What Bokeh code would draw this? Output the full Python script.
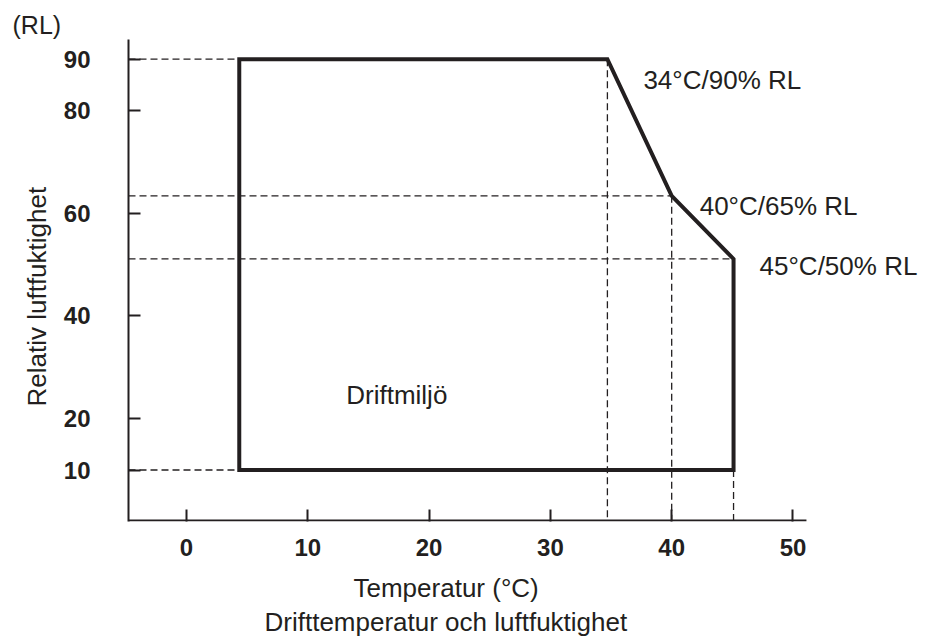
import math
from bokeh.plotting import figure
from bokeh.models import Range1d, FixedTicker, Label, Title
from bokeh.embed import file_html
from bokeh.resources import INLINE

# ---- data ----
temp_c = [4.35, 4.35, 34.7, 40.0, 45.1, 45.1]          # operating envelope corners (x)
rel_hum = [10.0, 90.0, 90.0, 63.4, 51.1, 10.0]          # operating envelope corners (y)
x_ticks = [0, 10, 20, 30, 40, 50]
y_ticks = [10, 20, 40, 60, 80, 90]
corner_labels = ["34°C/90% RL", "40°C/65% RL", "45°C/50% RL"]
corner_idx = [2, 3, 4]

INK = "#231f20"
FONT = "Liberation Sans"

X0, X1 = -4.782, 60.925
Y0, Y1 = -0.029, 93.84
X_AXIS_END = 51.11
X_AXIS_Y = 0.166

p = figure(width=925, height=638, output_backend="svg", toolbar_location=None,
           x_range=Range1d(X0, X1), y_range=Range1d(Y0, Y1),
           min_border_left=128, min_border_right=0,
           min_border_top=39, min_border_bottom=117)
p.outline_line_color = None
p.grid.visible = False
p.background_fill_color = "white"
p.border_fill_color = "white"

for ax in (p.xaxis[0], p.yaxis[0]):
    ax.axis_line_color = INK
    ax.axis_line_width = 2
    ax.major_tick_line_color = INK
    ax.major_tick_line_width = 2
    ax.major_tick_in = 12
    ax.major_tick_out = 0
    ax.minor_tick_line_color = None
    ax.major_label_text_font = FONT
    ax.major_label_text_font_style = "bold"
    ax.major_label_text_font_size = "24px"
    ax.major_label_text_color = INK

p.xaxis[0].ticker = FixedTicker(ticks=x_ticks)
p.yaxis[0].ticker = FixedTicker(ticks=y_ticks)
p.xaxis[0].axis_line_color = None       # drawn below so it stops at 51
p.xaxis[0].major_label_standoff = 17
p.xaxis[0].axis_label = " "              # small spacer before the titles
p.xaxis[0].axis_label_text_font_size = "7px"
p.xaxis[0].axis_label_standoff = 1
p.yaxis[0].major_label_standoff = 38

# x axis line (stops short of the right edge, as in the reference)
p.segment(x0=[X0], y0=[X_AXIS_Y], x1=[X_AXIS_END], y1=[X_AXIS_Y],
          line_color=INK, line_width=2)

# dashed guide lines
h_y = [rel_hum[0], rel_hum[1], rel_hum[3], rel_hum[4]]
h_x1 = [temp_c[0], temp_c[1], temp_c[3], temp_c[4]]
p.segment(x0=[X0] * len(h_y), y0=h_y, x1=h_x1, y1=h_y,
          line_color=INK, line_width=1.3, line_dash="7 4")
v_x = [temp_c[2], temp_c[3], temp_c[5]]
v_y0 = [rel_hum[2], rel_hum[3], rel_hum[5]]
p.segment(x0=v_x, y0=v_y0, x1=v_x, y1=[X_AXIS_Y] * len(v_x),
          line_color=INK, line_width=1.3, line_dash="7 4")

# operating envelope
p.patch(temp_c, rel_hum, fill_color=None, line_color=INK, line_width=4,
        line_join="miter")

# corner annotations
offsets = [(36, -20.7), (28, -10.4), (26, -7.5)]
for txt, i, (dx, dy) in zip(corner_labels, corner_idx, offsets):
    p.add_layout(Label(x=temp_c[i], y=rel_hum[i], x_offset=dx, y_offset=dy,
                       text=txt, text_font=FONT, text_font_size="26px",
                       text_color=INK, text_baseline="alphabetic", text_align="left"))

p.add_layout(Label(x=13.17, y=24.64, text="Driftmiljö", text_font=FONT,
                   text_font_size="26px", text_color=INK,
                   text_baseline="alphabetic", text_align="left"))

# texts outside the plotting area: titles in the side panels
p.title.text = "(RL)"
p.title.align = "left"
p.title.offset = -116
p.title.standoff = 2
p.title.text_font = FONT
p.title.text_font_size = "25px"
p.title.text_font_style = "normal"
p.title.text_color = INK

p.add_layout(Title(text="Temperatur (°C)", align="left", offset=225, standoff=2,
                   text_font=FONT, text_font_size="26px", text_font_style="normal",
                   text_color=INK), "below")
p.add_layout(Title(text="Drifttemperatur och luftfuktighet", align="left", offset=136,
                   standoff=2, text_font=FONT, text_font_size="26px",
                   text_font_style="normal", text_color=INK), "below")
p.add_layout(Title(text="Relativ luftfuktighet", align="left", offset=115, standoff=18,
                   text_font=FONT, text_font_size="26px", text_font_style="normal",
                   text_color=INK), "left")

open("out.html", "w").write(file_html(p, INLINE))
